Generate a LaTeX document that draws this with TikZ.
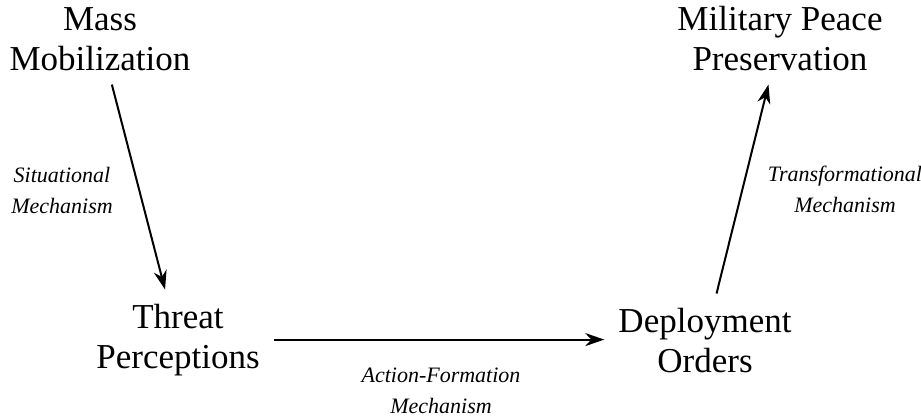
\documentclass[tikz,border=0pt]{standalone}
\newif\ifpalat
\IfFileExists{mathpazo.sty}{\IfFileExists{pplr7t.tfm}{\IfFileExists{uplr8a.pfb}{\palattrue}{}}{}}{}
\ifpalat
  \usepackage{mathpazo}
\else
  \usepackage{fontspec}
  \setmainfont{Liberation Serif}
\fi
\usetikzlibrary{arrows.meta}
\begin{document}
\begin{tikzpicture}[x=1bp,y=-1bp,
  concept/.style={align=center,inner sep=14bp,anchor=base,font=\fontsize{35bp}{40bp}\selectfont},
  mech/.style={align=center,inner sep=0pt,anchor=base,font=\fontsize{22bp}{31bp}\selectfont\itshape},
  arr/.style={line width=2bp,-{Stealth[length=19bp,width=13bp,inset=6bp]}}]
\useasboundingbox (0,0) rectangle (921,417);
\node[concept] (mm) at (100,70) {Mass\\Mobilization};
\node[concept] (tp) at (178,368) {Threat\\Perceptions};
\node[concept] (dp) at (705,372) {Deployment\\Orders};
\node[concept] (mp) at (780,70) {Military Peace\\Preservation};
\node[mech] (l1) at (62,213) {Situational\\Mechanism};
\node[mech] (l2) at (845,212) {Transformational\\Mechanism};
\node[mech] (l3) at (441,413) {Action-Formation\\Mechanism};
\draw[arr] (mm) -- (tp);
\draw[arr] (tp.east) -- (tp.east -| dp.west);
\draw[arr] (dp) -- (mp);
\end{tikzpicture}
\end{document}
